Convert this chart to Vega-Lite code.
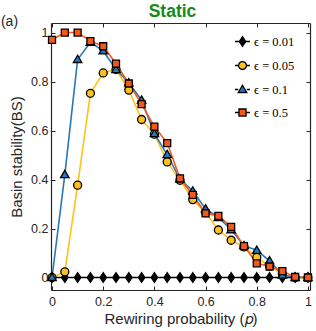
{
  "$schema": "https://vega.github.io/schema/vega-lite/v6.json",
  "width": 259,
  "height": 267,
  "autosize": {"type": "none"},
  "padding": {"left": 51, "top": 23, "right": 6, "bottom": 41},
  "background": "white",
  "title": {"text": "Static", "color": "#168a16", "fontSize": 17.5, "font": "Liberation Sans", "fontWeight": "bold", "anchor": "middle", "dx": -8, "offset": -6},
  "config": {
    "view": {"stroke": null},
    "axis": {"domainColor": "#262626", "domainWidth": 1.2, "tickColor": "#262626", "tickWidth": 1, "labelColor": "#262626", "titleColor": "#262626", "labelFont": "Liberation Sans", "titleFont": "Liberation Sans", "labelFontSize": 12.5, "titleFontSize": 15, "titleFontWeight": "normal", "grid": false}
  },
  "data": {"values": [
    {"p": 0, "eps": "0.01", "bs": 0}, {"p": 0.05, "eps": "0.01", "bs": 0}, {"p": 0.1, "eps": "0.01", "bs": 0}, {"p": 0.15, "eps": "0.01", "bs": 0}, {"p": 0.2, "eps": "0.01", "bs": 0}, {"p": 0.25, "eps": "0.01", "bs": 0}, {"p": 0.3, "eps": "0.01", "bs": 0}, {"p": 0.35, "eps": "0.01", "bs": 0}, {"p": 0.4, "eps": "0.01", "bs": 0}, {"p": 0.45, "eps": "0.01", "bs": 0}, {"p": 0.5, "eps": "0.01", "bs": 0}, {"p": 0.55, "eps": "0.01", "bs": 0}, {"p": 0.6, "eps": "0.01", "bs": 0}, {"p": 0.65, "eps": "0.01", "bs": 0}, {"p": 0.7, "eps": "0.01", "bs": 0}, {"p": 0.75, "eps": "0.01", "bs": 0}, {"p": 0.8, "eps": "0.01", "bs": 0}, {"p": 0.85, "eps": "0.01", "bs": 0}, {"p": 0.9, "eps": "0.01", "bs": 0}, {"p": 0.95, "eps": "0.01", "bs": 0}, {"p": 1, "eps": "0.01", "bs": 0},
    {"p": 0, "eps": "0.05", "bs": 0}, {"p": 0.05, "eps": "0.05", "bs": 0.023}, {"p": 0.1, "eps": "0.05", "bs": 0.377}, {"p": 0.15, "eps": "0.05", "bs": 0.752}, {"p": 0.2, "eps": "0.05", "bs": 0.835}, {"p": 0.25, "eps": "0.05", "bs": 0.849}, {"p": 0.3, "eps": "0.05", "bs": 0.765}, {"p": 0.35, "eps": "0.05", "bs": 0.645}, {"p": 0.4, "eps": "0.05", "bs": 0.585}, {"p": 0.45, "eps": "0.05", "bs": 0.472}, {"p": 0.5, "eps": "0.05", "bs": 0.397}, {"p": 0.55, "eps": "0.05", "bs": 0.318}, {"p": 0.6, "eps": "0.05", "bs": 0.265}, {"p": 0.65, "eps": "0.05", "bs": 0.194}, {"p": 0.7, "eps": "0.05", "bs": 0.152}, {"p": 0.75, "eps": "0.05", "bs": 0.125}, {"p": 0.8, "eps": "0.05", "bs": 0.082}, {"p": 0.85, "eps": "0.05", "bs": 0.046}, {"p": 0.9, "eps": "0.05", "bs": 0.015}, {"p": 0.95, "eps": "0.05", "bs": 0}, {"p": 1, "eps": "0.05", "bs": 0},
    {"p": 0, "eps": "0.1", "bs": 0}, {"p": 0.05, "eps": "0.1", "bs": 0.42}, {"p": 0.1, "eps": "0.1", "bs": 0.89}, {"p": 0.15, "eps": "0.1", "bs": 0.96}, {"p": 0.2, "eps": "0.1", "bs": 0.925}, {"p": 0.25, "eps": "0.1", "bs": 0.849}, {"p": 0.3, "eps": "0.1", "bs": 0.795}, {"p": 0.35, "eps": "0.1", "bs": 0.724}, {"p": 0.4, "eps": "0.1", "bs": 0.587}, {"p": 0.45, "eps": "0.1", "bs": 0.502}, {"p": 0.5, "eps": "0.1", "bs": 0.402}, {"p": 0.55, "eps": "0.1", "bs": 0.353}, {"p": 0.6, "eps": "0.1", "bs": 0.28}, {"p": 0.65, "eps": "0.1", "bs": 0.245}, {"p": 0.7, "eps": "0.1", "bs": 0.195}, {"p": 0.75, "eps": "0.1", "bs": 0.13}, {"p": 0.8, "eps": "0.1", "bs": 0.111}, {"p": 0.85, "eps": "0.1", "bs": 0.068}, {"p": 0.9, "eps": "0.1", "bs": 0.01}, {"p": 0.95, "eps": "0.1", "bs": 0}, {"p": 1, "eps": "0.1", "bs": 0},
    {"p": 0, "eps": "0.5", "bs": 0.97}, {"p": 0.05, "eps": "0.5", "bs": 1.0}, {"p": 0.1, "eps": "0.5", "bs": 1.0}, {"p": 0.15, "eps": "0.5", "bs": 0.965}, {"p": 0.2, "eps": "0.5", "bs": 0.944}, {"p": 0.25, "eps": "0.5", "bs": 0.873}, {"p": 0.3, "eps": "0.5", "bs": 0.792}, {"p": 0.35, "eps": "0.5", "bs": 0.708}, {"p": 0.4, "eps": "0.5", "bs": 0.616}, {"p": 0.45, "eps": "0.5", "bs": 0.549}, {"p": 0.5, "eps": "0.5", "bs": 0.405}, {"p": 0.55, "eps": "0.5", "bs": 0.337}, {"p": 0.6, "eps": "0.5", "bs": 0.262}, {"p": 0.65, "eps": "0.5", "bs": 0.252}, {"p": 0.7, "eps": "0.5", "bs": 0.207}, {"p": 0.75, "eps": "0.5", "bs": 0.128}, {"p": 0.8, "eps": "0.5", "bs": 0.058}, {"p": 0.85, "eps": "0.5", "bs": 0.045}, {"p": 0.9, "eps": "0.5", "bs": 0.026}, {"p": 0.95, "eps": "0.5", "bs": 0.002}, {"p": 1, "eps": "0.5", "bs": 0}
  ]},
  "resolve": {"axis": {"x": "independent", "y": "independent"}, "scale": {"shape": "independent", "color": "independent"}},
  "layer": [
    {
      "mark": {"type": "line", "strokeWidth": 1.6},
      "encoding": {
        "x": {"field": "p", "type": "quantitative", "scale": {"domain": [-0.004, 1.008], "nice": false, "zero": false},
          "axis": {"orient": "bottom", "values": [0, 0.2, 0.4, 0.6, 0.8, 1], "format": "~g", "tickSize": -4, "labelPadding": 9, "title": "Rewiring probability (𝑝)", "titlePadding": 4}},
        "y": {"field": "bs", "type": "quantitative", "scale": {"domain": [-0.051, 1.039], "nice": false, "zero": false},
          "axis": {"orient": "left", "values": [0, 0.2, 0.4, 0.6, 0.8, 1], "format": "~g", "tickSize": -4, "labelPadding": 7, "title": "Basin stability(BS)", "titlePadding": 6}},
        "stroke": {"field": "eps", "type": "nominal", "scale": {"domain": ["0.01", "0.05", "0.1", "0.5"], "range": ["#000000", "#FFC21C", "#2878B8", "#F4581C"]}, "legend": null}
      }
    },
    {
      "mark": {"type": "point", "filled": true, "stroke": "#000000", "strokeWidth": 1.3, "opacity": 1, "size": 100},
      "encoding": {
        "x": {"field": "p", "type": "quantitative",
          "axis": {"orient": "top", "values": [0, 0.2, 0.4, 0.6, 0.8, 1], "labels": false, "tickSize": -4, "title": "(a)", "titleX": -42, "titleY": -2, "titleAlign": "center", "titleBaseline": "middle", "titleFontSize": 14}},
        "y": {"field": "bs", "type": "quantitative",
          "axis": {"orient": "right", "values": [0, 0.2, 0.4, 0.6, 0.8, 1], "labels": false, "tickSize": -4, "title": null}},
        "fill": {"field": "eps", "type": "nominal", "scale": {"domain": ["0.01", "0.05", "0.1", "0.5"], "range": ["#000000", "#FFC21C", "#2878B8", "#F4581C"]}, "legend": null},
        "shape": {"field": "eps", "type": "nominal", "scale": {"domain": ["0.01", "0.05", "0.1", "0.5"], "range": ["M-0.65,0L0,-0.95L0.65,0L0,0.95Z", "M-0.8,0A0.8,0.8,0,1,1,0.8,0A0.8,0.8,0,1,1,-0.8,0Z", "M0,-0.85L0.85,0.6L-0.85,0.6Z", "M-0.7,-0.7H0.7V0.7H-0.7Z"]}, "legend": null}
      }
    },
    {
      "data": {"values": []},
      "mark": {"type": "point", "filled": true, "stroke": "#000000", "strokeWidth": 1.3, "opacity": 1, "size": 225},
      "encoding": {
        "color": {"field": "eps", "type": "nominal", "scale": {"domain": ["0.01", "0.05", "0.1", "0.5"], "range": ["#000000", "#FFC21C", "#2878B8", "#F4581C"]},
          "legend": {"orient": "none", "legendX": 183, "legendY": 10, "title": null, "symbolSize": 225, "symbolStrokeWidth": 1.3, "labelFont": "Liberation Serif", "labelFontSize": 12.5, "labelColor": "#000000", "rowPadding": 8, "labelOffset": 3, "labelExpr": "'ϵ = ' + datum.label"}},
        "shape": {"field": "eps", "type": "nominal", "scale": {"domain": ["0.01", "0.05", "0.1", "0.5"], "range": ["M-1,0H-0.43M0.43,0H1M-0.43,0L0,-0.63L0.43,0L0,0.63Z", "M-1,0H-0.53M0.53,0H1M-0.53,0A0.53,0.53,0,1,1,0.53,0A0.53,0.53,0,1,1,-0.53,0Z", "M-1,0H-0.57M0.57,0H1M0,-0.57L0.57,0.4L-0.57,0.4Z", "M-1,0H-0.47M0.47,0H1M-0.47,-0.47H0.47V0.47H-0.47Z"]},
          "legend": {"orient": "none", "legendX": 183, "legendY": 10, "title": null, "symbolSize": 225, "symbolStrokeWidth": 1.3, "labelFont": "Liberation Serif", "labelFontSize": 12.5, "labelColor": "#000000", "rowPadding": 8, "labelOffset": 3, "labelExpr": "'ϵ = ' + datum.label"}}
      }
    }
  ]
}
